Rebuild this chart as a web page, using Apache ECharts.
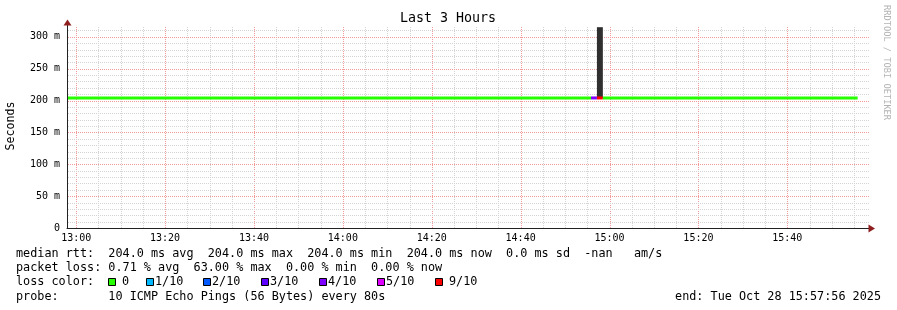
<!DOCTYPE html>
<html>
<head>
<meta charset="utf-8">
<script src="https://cdn.jsdelivr.net/npm/echarts@6/dist/echarts.min.js"></script>
<style>
html,body{margin:0;padding:0;background:#fff;}
#c{width:897px;height:310px;}
</style>
</head>
<body>
<div id="c"></div>
<script>
// ---- data ----
const rangeStart = '12:57:56';
const rangeEnd = '15:57:56';
// median rtt segments (loss colored)
const medianStart = ['12:57:56', '14:55:50', '14:57:10', '14:58:30'];
const medianEnd   = ['14:55:50', '14:57:10', '14:58:30', '15:55:50'];
const medianRtt   = [204, 204, 204, 204];          // ms
const medianLoss  = [0, 4, 6, 0];                  // index into loss colours
// smoke (ping spread)
const smokeStart = ['14:57:10'];
const smokeEnd   = ['14:58:30'];
const smokeLow   = [204];
const smokeHigh  = [315];
// axes / grid
const yMax = 320;
const yLabelStep = 50, yGridStep = 10;            // ms
const xLabelStep = 1200, xGridStep = 300;         // seconds (20 min labels, 5 min grid)
const lossLabels = ['0', '1/10', '2/10', '3/10', '4/10', '5/10', '9/10'];
const lossColors = ['#26ff00', '#00b8ff', '#0059ff', '#5e00ff', '#7e00ff', '#dd00ff', '#ff0000'];
const titleText = 'Last 3 Hours';
const yTitle = 'Seconds';
const statLines = [
  'median rtt:  204.0 ms avg  204.0 ms max  204.0 ms min  204.0 ms now  0.0 ms sd  -nan   am/s',
  'packet loss: 0.71 % avg  63.00 % max  0.00 % min  0.00 % now'
];
const lossTitle = 'loss color:';
const probeLine = 'probe:       10 ICMP Echo Pings (56 Bytes) every 80s';
const endLine = 'end: Tue Oct 28 15:57:56 2025';
const watermark = 'RRDTOOL / TOBI OETIKER';

// ---- helpers ----
function toSec(s) { const p = s.split(':').map(Number); return p[0] * 3600 + p[1] * 60 + p[2]; }
function fmt(v) { const m = Math.round(v / 60); const h = Math.floor(m / 60); const mm = m % 60; return (h < 10 ? '0' : '') + h + ':' + (mm < 10 ? '0' : '') + mm; }

const xMin = toSec(rangeStart), xMax = toSec(rangeEnd);
const medianData = medianStart.map((s, i) => [toSec(s), toSec(medianEnd[i]), medianRtt[i], medianLoss[i]]);
const smokeData = smokeStart.map((s, i) => [toSec(s), toSec(smokeEnd[i]), smokeLow[i], smokeHigh[i]]);

// grid tick values (clock aligned)
const xGridTicks = [];
for (let t = Math.ceil(xMin / xGridStep) * xGridStep; t < xMax; t += xGridStep) xGridTicks.push([t, t % xLabelStep === 0 ? 1 : 0]);
const yGridTicks = [];
for (let v = yGridStep; v < yMax; v += yGridStep) yGridTicks.push([v, v % yLabelStep === 0 ? 1 : 0]);

const MONO = 'DejaVu Sans Mono';
const GRID_L = 67, GRID_B = 228, GRID_W = 800, GRID_TOP = 24;
const minorColor = '#d4d4d4', majorColor = '#f09a9a';

const chart = echarts.init(document.getElementById('c'), null, {renderer: 'canvas'});

const graphics = [];
graphics.push({type: 'text', x: 448, y: 19, style: {text: titleText, font: '13.3px "' + MONO + '"', fill: '#000', align: 'center', verticalAlign: 'middle'}});
graphics.push({type: 'text', x: 11, y: 126, rotation: Math.PI / 2, style: {text: yTitle, font: '11.6px "' + MONO + '"', fill: '#000', align: 'center', verticalAlign: 'middle'}});
graphics.push({type: 'text', x: 886, y: 5, rotation: -Math.PI / 2, style: {text: watermark, font: '8.7px "' + MONO + '"', fill: '#b4b4b4', align: 'left', verticalAlign: 'middle'}});
graphics.push({type: 'polygon', shape: {points: [[67.5, 19.5], [63.5, 25.5], [71.5, 25.5]]}, style: {fill: '#8f1f1f'}, z: 10});
graphics.push({type: 'line', shape: {x1: GRID_L + GRID_W, y1: 228.5, x2: 869, y2: 228.5}, style: {stroke: '#222', lineWidth: 1}, z: 10});
graphics.push({type: 'polygon', shape: {points: [[875, 228.5], [868.5, 224.5], [868.5, 232.5]]}, style: {fill: '#8f1f1f'}, z: 10});
const lineY = [253.5, 268, 282.3, 296.7];
statLines.forEach((t, i) => graphics.push({type: 'text', x: 16, y: lineY[i], style: {text: t, font: '11.8px "' + MONO + '"', fill: '#000', verticalAlign: 'middle'}}));
graphics.push({type: 'text', x: 16, y: lineY[2], style: {text: lossTitle, font: '11.8px "' + MONO + '"', fill: '#000', verticalAlign: 'middle'}});
const sqX = [108.5, 146.5, 203.5, 261.5, 319.5, 377.5, 435.5];
const lblX = [122, 155, 212, 270, 328, 386, 449];
lossLabels.forEach((t, i) => {
  graphics.push({type: 'rect', shape: {x: sqX[i], y: 278.5, width: 7, height: 7}, style: {fill: lossColors[i], stroke: '#000', lineWidth: 1}});
  graphics.push({type: 'text', x: lblX[i], y: lineY[2], style: {text: t, font: '11.8px "' + MONO + '"', fill: '#000', verticalAlign: 'middle'}});
});
graphics.push({type: 'text', x: 16, y: lineY[3], style: {text: probeLine, font: '11.8px "' + MONO + '"', fill: '#000', verticalAlign: 'middle'}});
graphics.push({type: 'text', x: 881, y: lineY[3], style: {text: endLine, font: '11.8px "' + MONO + '"', fill: '#000', align: 'right', verticalAlign: 'middle'}});

const option = {
  animation: false,
  backgroundColor: '#fff',
  grid: {left: GRID_L, top: GRID_TOP, width: GRID_W, height: GRID_B - GRID_TOP, containLabel: false, outerBoundsMode: 'none'},
  xAxis: {
    type: 'value', position: 'bottom', min: xMin, max: xMax, minInterval: xLabelStep, maxInterval: xLabelStep, splitNumber: 9, z: 5,
    axisLine: {show: true, onZero: false, lineStyle: {color: '#222', width: 1}},
    axisTick: {show: false},
    axisLabel: {show: true, showMinLabel: false, showMaxLabel: false, margin: 5, color: '#000', fontFamily: MONO, fontSize: 10,
      formatter: v => (v % xLabelStep === 0 ? fmt(v) : '')},
    splitLine: {show: false}
  },
  yAxis: {
    type: 'value', position: 'left', min: 0, max: yMax, interval: yLabelStep, z: 5,
    axisLine: {show: true, onZero: false, lineStyle: {color: '#222', width: 1}},
    axisTick: {show: false},
    axisLabel: {show: true, showMaxLabel: false, margin: 7, color: '#000', fontFamily: MONO, fontSize: 10,
      formatter: v => (v === 0 ? '0' : v + ' m')},
    splitLine: {show: false}
  },
  series: [
    { // vertical grid lines
      type: 'custom', name: 'xgrid', z: 1, silent: true, clip: false,
      encode: {x: 0},
      data: xGridTicks,
      renderItem: (params, api) => {
        const cs = params.coordSys;
        const x = Math.round(api.coord([api.value(0), 0])[0]) + 0.5;
        return {type: 'line', shape: {x1: x, y1: cs.y + cs.height, x2: x, y2: cs.y + 2},
          style: {stroke: api.value(1) ? majorColor : minorColor, lineWidth: 1, lineDash: [1, 1]}};
      }
    },
    { // horizontal grid lines
      type: 'custom', name: 'ygrid', z: 1, silent: true, clip: false,
      encode: {y: 0},
      data: yGridTicks,
      renderItem: (params, api) => {
        const cs = params.coordSys;
        const y = Math.round(api.coord([xMin, api.value(0)])[1]) + 0.5;
        return {type: 'line', shape: {x1: cs.x + 1, y1: y, x2: cs.x + cs.width + 2, y2: y},
          style: {stroke: api.value(1) ? majorColor : minorColor, lineWidth: 1, lineDash: [1, 1]}};
      }
    },
    {
      type: 'custom', name: 'smoke', z: 3,
      encode: {x: [0, 1], y: [2, 3]},
      data: smokeData,
      renderItem: (params, api) => {
        const a = api.coord([api.value(0), api.value(3)]);
        const b = api.coord([api.value(1), api.value(2)]);
        return {type: 'rect', shape: {x: a[0], y: a[1], width: b[0] - a[0], height: b[1] - a[1]}, style: {fill: '#2f2f2f'}};
      }
    },
    {
      type: 'custom', name: 'median', z: 4,
      encode: {x: [0, 1], y: 2},
      data: medianData,
      renderItem: (params, api) => {
        const a = api.coord([api.value(0), api.value(2)]);
        const b = api.coord([api.value(1), api.value(2)]);
        return {type: 'rect', shape: {x: a[0], y: a[1] - 1.5, width: b[0] - a[0], height: 3}, style: {fill: lossColors[api.value(3)]}};
      }
    }
  ],
  graphic: graphics
};
chart.setOption(option);
</script>
</body>
</html>
